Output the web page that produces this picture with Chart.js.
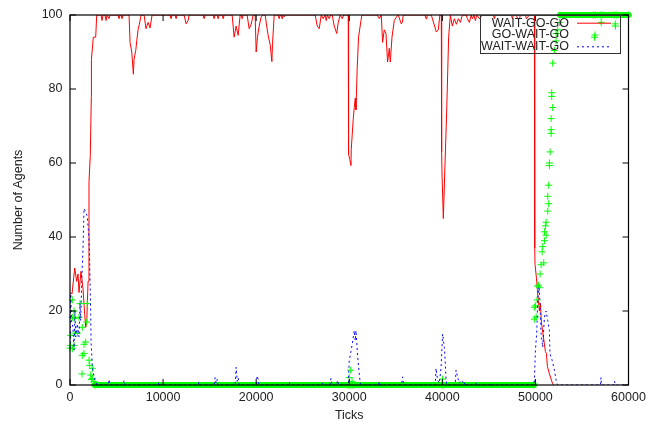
<!DOCTYPE html>
<html lang="en">
<head>
  <meta charset="UTF-8" />
  <title>Agents per strategy</title>
  <script src="https://cdn.jsdelivr.net/npm/chart.js"></script>
  <style>
    body {
      margin: 0;
      background: #fff;
    }
    canvas {
      display: block;
    }
  </style>
</head>
<body>
  <canvas id="agentsChart" width="659" height="428"></canvas>

  <script>
    // [tick, number of agents]
    const waitGoGo = [
      [0,25],[215,24.6],[505,31.6],[720,28],[860,30],[970,25],[1180,30.7],[1400,26],[1580,19],[1690,15.6],[1800,17],[1940,28],[2040,55],[2180,62],[2290,78],[2300,88],[2505,94],[2760,94],[2870,100],
      [3330,100],[3440,98.5],[3550,100],[3760,100],[3870,98.5],[3980,100],[4080,100],[4190,99],[4300,100],
      [5160,100],[5270,99],[5380,100],[5480,100],[5590,99],[5700,100],
      [6344,100],[6452,92.6],[6635,90],[6807,84],[6882,88],[7065,90.4],[7172,93],[7312,96],[7450,97.5],[7602,99.5],[7635,100],
      [7957,100],[8172,96.3],[8387,98],[8602,96.5],[8817,100],
      [10750,100],[10860,99],[10970,100],[11290,100],[11398,99],[11500,100],
      [12258,100],[12473,97.6],[12688,98.5],[12796,100],
      [14300,100],[14409,99],[14520,100],[15380,100],[15484,99],[15590,100],[15810,100],[15915,99],[16020,100],[16350,100],[16452,99],[16560,100],
      [17420,100],[17635,94],[17850,97],[18065,94.5],[18280,100],[18400,100],[18495,99],[18600,100],
      [19032,100],[19247,96.3],[19463,97.5],[19678,100],[19893,100],[20000,90],[20140,94],[20323,97],[20538,99.5],[20753,100],
      [20968,100],[21129,97],[21323,94],[21506,92],[21689,87.4],[21753,92],[21936,100],
      [22370,100],[22473,99],[22580,100],[22690,100],[22796,99],[22900,100],[23011,99.5],[23120,100],
      [26344,100],[26560,97],[26774,96.3],[26989,100],[27204,99],[27400,100],[27527,98.5],[27650,100],[27850,99],[28000,100],[28172,100],[28387,97],[28656,95],[28817,98],[29032,100],[29247,99],[29400,100],[29892,100],
      [29925,62.4],[30054,61],[30183,59.3],[30215,63.7],[30430,72],[30538,75],[30645,77.5],[30720,74.4],[30860,86],[31000,94],[31258,98.5],[31366,100],
      [33011,100],[33226,99],[33441,100],[33581,92.6],[33763,96],[33946,95],[34118,87.3],[34301,91],[34409,87.3],[34591,94],[34839,98.5],[35086,99.5],[35269,100],[35591,97.6],[35699,98],[35806,100],
      [38140,100],[38247,99],[38350,100],[38817,100],[39355,95.4],[39570,96],[39731,100],[39892,100],
      [39925,63],[39978,56],[40108,45],[40290,60],[40462,73.5],[40677,94],[40860,100],
      [41075,97],[41290,99],[41505,97.5],[41720,99],[41935,98],[42150,100],[42580,100],[42688,99],[42903,98],[43100,100],[43226,99],[43400,100],[43548,98.5],[43700,100],[43978,99],[44301,100],
      [45480,100],[45591,99],[45700,100],[47420,100],[47527,99],[47630,100],[47960,100],[48065,99],[48280,99],[48400,100],[48930,100],[49032,99],[49355,100],[49892,100],
      [49925,37],[49957,32.6],[50108,29],[50269,24],[50430,20],[50538,22],[50645,17],[50860,13],[51075,9],[51183,8.5],[51290,5],[51505,3],[51828,0.5],[51935,0]
    ];

    const goWaitGo = [
      [0,10],[75,13.4],[75,10.7],[247,23],[247,18.3],[247,9.8],[430,20],[430,18],[430,10.7],[538,14],[785,14],[968,18.3],[1075,22],[1323,15.6],[1323,8],[1290,3],[1505,11],[1505,8.5],[1688,11.6],[1796,17],[1850,22],[2043,6.7],[2118,5.3],[2226,2.7],[2300,1.5],[2398,4.5],[2398,1.8],[2581,0.9],
      [2650,0],[29950,0],[30000,2],[30050,0],[30150,4],[30200,0],[30300,1],[30350,0],[39980,0],[40030,1.6],[40080,0],[49850,0],
      [49893,21],[49893,17.8],[50000,21.4],[50075,18.4],[50183,23],[50248,26.7],[50323,27],[50430,26.3],[50505,30],[50613,32.5],[50720,36],[50785,37.4],[50893,33],[50968,39],[50968,41.4],[51075,43],[51150,44],[51150,40.5],[51323,47],[51323,51],[51430,49],[51430,54],[51505,59.3],[51505,60],[51580,63],[51688,68],[51688,69],[51688,72],[51860,75],[51753,78],[51753,79],[51860,87],[52043,90.4],[52226,93],[52226,95],[52400,96],[52581,98],
      [52650,100],[56250,100],[56345,94],[56450,100],[56960,100],[57065,98],[57170,100],[58470,100],[58570,97.6],[58600,97],[58700,100],[60000,100]
    ];

    const waitWaitGo = [
      [0,10],[75,24.6],[150,17.4],[320,15.6],[430,9.4],[540,20],[610,13],[785,16.5],[970,13],[1075,22],[1150,17.4],[1260,28],[1400,37],[1470,44],[1505,47.7],[1690,46.8],[1860,45.5],[2040,39.6],[2118,32.5],[2226,19],[2260,12],[2398,5],[2581,2.2],[2760,0.9],[2900,0],
      [4090,0],[4194,1.5],[4300,0],[5700,0],[5806,1.2],[5910,0],[9460,0],[9570,0.8],[9680,0],[13760,0],[13871,0.8],[13980,0],[15480,0],[15592,2],[15700,0.5],[15806,1.5],[15910,0],
      [17740,0],[17850,4.8],[17960,1],[18065,2],[18170,0],[20000,0],[20108,2.5],[20215,1.5],[20320,0],[23440,0],[23548,0.8],[23650,0],[27020,0],[27130,0.5],[27240,0],[27930,0],[28033,1.8],[28140,0],[28640,0],[28742,1.3],[28850,0],
      [29892,0],[30000,6.7],[30183,9],[30355,11.6],[30538,14.7],[30645,12],[30720,14.7],[30893,8],[31075,3],[31183,0.5],[31290,0],
      [33120,0],[33226,0.9],[33330,0],[35620,0],[35732,2.2],[35840,0],
      [39247,0],[39323,4.5],[39494,1.3],[39677,0.5],[39860,4.5],[40032,13.8],[40215,10.2],[40323,5.8],[40398,1.3],[40484,0],
      [41380,0],[41473,4],[41645,2.2],[41800,0.5],[42011,1.3],[42183,1],[42300,0],[42473,0.8],[42580,0],[43550,0],[43656,0.5],[43760,0],[45160,0],[45269,0.5],[45380,0],
      [49800,0],[49892,1.3],[50000,9.4],[50140,14],[50247,22.7],[50355,26.3],[50430,25.4],[50505,21],[50613,13.8],[50785,10.2],[50968,18.3],[51150,20],[51323,17.4],[51505,14.7],[51560,8.5],[51796,6.7],[52043,4],[52226,1.3],[52366,0],
      [56989,0],[57043,2],[57097,0],[58387,0],[58495,1],[58602,0],[60000,0]
    ];

    const xTicks = [0, 10000, 20000, 30000, 40000, 50000, 60000];
    const yTicks = [0, 20, 40, 60, 80, 100];

    const FONT = { family: "'Liberation Sans', Arial, sans-serif", size: 12.5 };
    const TEXT = '#222';

    const toPoints = arr => arr.map(([x, y]) => ({ x, y }));

    // gnuplot-ish frame: box + inward ticks on all four sides, drawn over the data
    const framePlugin = {
      id: 'frame',
      afterDatasetsDraw(chart) {
        const { ctx, chartArea: a, scales } = chart;
        ctx.save();
        ctx.strokeStyle = '#000';
        ctx.lineWidth = 1.2;
        ctx.strokeRect(a.left, a.top, a.right - a.left, a.bottom - a.top);
        ctx.lineWidth = 1;
        ctx.beginPath();
        scales.x.ticks.forEach(t => {
          const px = scales.x.getPixelForValue(t.value);
          ctx.moveTo(px, a.bottom); ctx.lineTo(px, a.bottom - 6);
          ctx.moveTo(px, a.top); ctx.lineTo(px, a.top + 6);
        });
        scales.y.ticks.forEach(t => {
          const py = scales.y.getPixelForValue(t.value);
          ctx.moveTo(a.left, py); ctx.lineTo(a.left + 6, py);
          ctx.moveTo(a.right, py); ctx.lineTo(a.right - 6, py);
        });
        ctx.stroke();

        // key box, top right
        ctx.strokeStyle = '#333';
        ctx.strokeRect(480.5, 15.5, 140, 38);
        const rows = [23.2, 35, 46.8];
        ctx.font = `${FONT.size}px ${FONT.family}`;
        ctx.textAlign = 'right';
        ctx.textBaseline = 'middle';
        chart.data.datasets.forEach((ds, i) => {
          const y = rows[i];
          ctx.fillStyle = TEXT;
          ctx.fillText(ds.label, 569, y);
          ctx.strokeStyle = ds.pointBorderColor || ds.borderColor;
          ctx.lineWidth = 1;
          ctx.setLineDash(ds.borderDash || []);
          ctx.beginPath();
          if (ds.pointStyle === 'cross') {
            ctx.moveTo(591.5, y); ctx.lineTo(598.5, y);
            ctx.moveTo(595, y - 3.5); ctx.lineTo(595, y + 3.5);
          } else {
            ctx.moveTo(577, y); ctx.lineTo(611, y);
          }
          ctx.stroke();
          ctx.setLineDash([]);
        });
        ctx.restore();
      }
    };

    // green crosses are so dense along 0 and 100 that they merge into a thick band
    const bandOnly = c => {
      const y0 = c.p0.parsed.y, y1 = c.p1.parsed.y;
      return (y0 === y1 && (y0 === 0 || y0 === 100)) ? '#00ff00' : 'rgba(0,0,0,0)';
    };

    new Chart(document.getElementById('agentsChart'), {
      type: 'scatter',
      data: {
        datasets: [
          {
            label: 'WAIT-GO-GO',
            data: toPoints(waitGoGo),
            showLine: true,
            borderColor: '#ff0000',
            borderWidth: 1,
            pointRadius: 0,
            order: 3
          },
          {
            label: 'GO-WAIT-GO',
            data: toPoints(goWaitGo),
            showLine: true,
            borderColor: '#00ff00',
            borderWidth: 6,
            borderCapStyle: 'round',
            segment: { borderColor: bandOnly },
            pointStyle: 'cross',
            pointRadius: 3.5,
            pointBorderWidth: 1,
            pointBorderColor: '#00ff00',
            clip: false,
            order: 2
          },
          {
            label: 'WAIT-WAIT-GO',
            data: toPoints(waitWaitGo),
            showLine: true,
            borderColor: '#0000ff',
            borderWidth: 1,
            borderDash: [2, 3],
            pointRadius: 0,
            order: 1
          }
        ]
      },
      options: {
        responsive: false,
        animation: false,
        layout: { padding: { top: 11, right: 30.5, left: 0, bottom: 0 } },
        plugins: {
          legend: { display: false },
          tooltip: { enabled: false }
        },
        scales: {
          x: {
            type: 'linear',
            min: 0,
            max: 60000,
            grid: { display: false, drawTicks: false },
            border: { display: false },
            afterBuildTicks: s => { s.ticks = xTicks.map(v => ({ value: v })); },
            afterFit: s => { s.height = 43; },
            ticks: { padding: 5, font: FONT, color: TEXT, maxRotation: 0, autoSkip: false, callback: v => String(v) },
            title: { display: true, text: 'Ticks', font: FONT, color: TEXT, padding: { top: 0, bottom: 4.5 } }
          },
          y: {
            min: 0,
            max: 100,
            grid: { display: false, drawTicks: false },
            border: { display: false },
            afterBuildTicks: s => { s.ticks = yTicks.map(v => ({ value: v })); },
            afterFit: s => { s.width = 70; },
            ticks: { padding: 7.5, font: FONT, color: TEXT, callback: v => String(v) },
            title: { display: true, text: 'Number of Agents', font: FONT, color: TEXT, padding: { top: 11.5, bottom: 0 } }
          }
        }
      },
      plugins: [framePlugin]
    });
  </script>
</body>
</html>
